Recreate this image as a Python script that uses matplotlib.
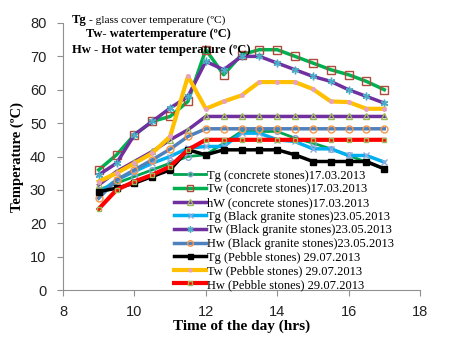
import numpy as np
import matplotlib
matplotlib.use('Agg')
import matplotlib.pyplot as plt

# Ore del giorno (ogni mezz'ora dalle 9 alle 17)
hours = [9, 9.5, 10, 10.5, 11, 11.5, 12, 12.5, 13, 13.5, 14, 14.5, 15, 15.5, 16, 16.5, 17]

# Pietre di cemento 17.03.2013
tg_concrete = [30, 32, 34, 36, 38, 40, 40.5, 44, 47.5, 47.5, 47.5, 45.5, 44, 42.3, 40.3, 38.3, 36.3]
tw_concrete = [36, 40.5, 46.5, 50.5, 52, 56.5, 72, 64.5, 70.5, 72, 72, 70, 68, 66, 64.5, 62.5, 60]
hw_concrete = [31.5, 35.5, 38.5, 41.5, 45, 48, 52, 52, 52, 52, 52, 52, 52, 52, 52, 52, 52]

# Granito nero 23.05.2013
tg_granite = [29, 33, 35.5, 38, 40, 42.5, 43, 43, 47, 47, 45, 44.5, 42.3, 42.3, 40.3, 40.3, 38.3]
tw_granite = [34.5, 38, 46.5, 50.5, 54.5, 58, 68.5, 66, 70, 70, 68, 66, 64, 62.5, 60, 58, 56]
hw_granite = [27.5, 33, 36, 39, 42.2, 46, 48.3, 48.3, 48.3, 48.3, 48.3, 48.3, 48.3, 48.3, 48.3, 48.3, 48.3]

# Ciottoli 29.07.2013
tg_pebble = [29.5, 30.5, 32, 34, 36, 42, 40.5, 42, 42, 42, 42, 40.5, 38.5, 38.5, 38.5, 38.5, 36.3]
tw_pebble = [32.5, 35, 38, 41, 46, 64, 54.3, 56.5, 58.3, 62.3, 62.3, 62.3, 60.2, 56.5, 56.3, 54.3, 54.3]
hw_pebble = [24.3, 30, 32.5, 34.5, 37, 42, 45, 45, 45, 45, 45, 45, 45, 45, 45, 45, 45]

labels = ['Tg (concrete stones)17.03.2013', 'Tw (concrete stones)17.03.2013',
          'hW (concrete stones)17.03.2013', 'Tg (Black granite stones)23.05.2013',
          'Tw (Black granite stones)23.05.2013', 'Hw (Black granite stones)23.05.2013',
          'Tg (Pebble stones) 29.07.2013', 'Tw (Pebble stones) 29.07.2013',
          'Hw (Pebble stones) 29.07.2013']

serif = ['Liberation Serif', 'DejaVu Serif']
sans = ['Liberation Sans', 'DejaVu Sans']

fig = plt.figure(figsize=(4.53, 3.40), dpi=100)
ax = fig.add_axes([63 / 453, 50 / 340, 357 / 453, 267 / 340])

series = [
    (tg_concrete, dict(color='#00A550', lw=2.0, marker='o', ms=4, mfc='none', mec='#7F9FD0', mew=1)),
    (tw_concrete, dict(color='#00B050', lw=2.5, marker='s', ms=5.5, mfc='none', mec='#B04A3A', mew=1)),
    (hw_concrete, dict(color='#7030A0', lw=2.5, marker='^', ms=5, mfc='none', mec='#9BBB59', mew=1)),
    (tg_granite, dict(color='#00B0F0', lw=2.5, marker='x', ms=4.5, mec='#8EA9DB', mew=1)),
    (tw_granite, dict(color='#7030A0', lw=2.5, marker=(6, 2, 0), ms=5.5, mec='#4BACC6', mew=1)),
    (hw_granite, dict(color='#4F81BD', lw=2.5, marker='o', ms=5, mfc='none', mec='#F79646', mew=1)),
    (tg_pebble, dict(color='black', lw=2.5, marker='s', ms=4.5, mfc='black', mec='black')),
    (tw_pebble, dict(color='#FFC000', lw=3, marker='o', ms=2.5, mfc='#E6A0C4', mec='#E6A0C4')),
    (hw_pebble, dict(color='#FF0000', lw=3, marker='s', ms=3, mfc='none', mec='#9BBB59', mew=1)),
]
for (vals, style), lab in zip(series, labels):
    ax.plot(hours, vals, label=lab, **style)

ax.set_xlim(8, 18)
ax.set_ylim(0, 80)
ax.set_xticks([8, 10, 12, 14, 16, 18])
ax.set_yticks(range(0, 81, 10))
for s in ['top', 'right']:
    ax.spines[s].set_visible(False)
for s in ['left', 'bottom']:
    ax.spines[s].set_color('#909090')
    ax.spines[s].set_linewidth(0.8)
ax.tick_params(axis='both', colors='#909090', labelcolor='#222222', length=4, width=0.8)
ax.tick_params(axis='x', pad=7)
ax.tick_params(axis='y', pad=8)
for t in ax.get_xticklabels() + ax.get_yticklabels():
    t.set_family(sans)
    t.set_fontsize(10.5)

ax.set_xlabel('Time of the day (hrs)', family=serif, fontweight='bold', fontsize=11, labelpad=0)
ax.set_ylabel('Temperature (ºC)', family=serif, fontweight='bold', fontsize=10.5, labelpad=4)

leg = ax.legend(loc='upper left', bbox_to_anchor=(0.31, 0.45), frameon=False,
                prop={'family': serif, 'size': 9}, handlelength=2.6, handletextpad=0.1,
                labelspacing=0.13, borderpad=0, borderaxespad=0, markerscale=0.8)

# Legenda delle sigle in alto
fig.text(72 / 453, 1 - 20 / 340, 'Tg', family=serif, fontweight='bold', fontsize=9, va='center')
fig.text(89 / 453, 1 - 20 / 340, '- glass cover temperature (ºC)', family=serif, fontsize=8.2, va='center')
fig.text(86 / 453, 1 - 34 / 340, 'Tw- watertemperature (ºC)', family=serif, fontweight='bold',
         fontsize=8.9, va='center')
fig.text(72 / 453, 1 - 50 / 340, 'Hw - Hot water temperature (ºC)', family=serif, fontweight='bold',
         fontsize=9.1, va='center')

fig.savefig('out.png', dpi=100)
